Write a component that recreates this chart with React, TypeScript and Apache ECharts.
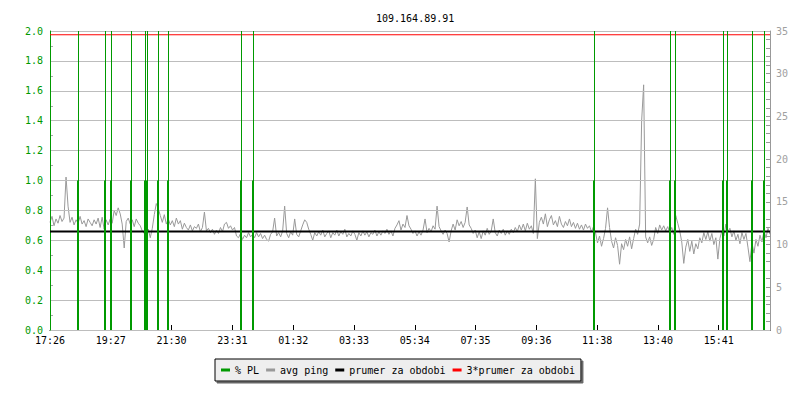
import React, { useEffect, useRef } from "react";
import * as echarts from "echarts";

// Time axis: minutes from the start of the 24h window, labelled every 121.25 min
const timeLabels = ["17:26", "19:27", "21:30", "23:31", "01:32", "03:33", "05:34", "07:35", "09:36", "11:38", "13:40", "15:41"];
const tickStepMin = 121.25;
const spanMin = 1436;

// Average ping (ms), one sample every 4 minutes
const pingStepMin = 4;
const avgPing = [
  12.6, 13.3, 12.2, 13.0, 12.5, 13.4, 12.7, 13.1, 17.9, 14.5,
  12.6, 13.2, 12.3, 12.9, 12.5, 13.3, 12.4, 12.8, 12.1, 13.0,
  12.6, 12.2, 12.9, 12.4, 13.1, 12.0, 13.2, 11.8, 12.9, 12.3,
  13.0, 12.5, 14.0, 13.4, 14.3, 13.6, 12.4, 9.6, 12.7, 13.1,
  12.4, 12.9, 12.1, 13.0, 12.5, 12.2, 11.6, 11.3, 10.9, 11.8,
  10.8, 11.9, 13.5, 14.8, 14.2, 13.4, 12.6, 13.5, 12.4, 13.0,
  12.3, 12.8, 12.1, 13.1, 12.4, 12.8, 11.8, 12.5, 12.0, 11.7,
  12.3, 11.6, 12.1, 11.9, 12.4, 11.5, 12.0, 13.8, 11.6, 11.9,
  11.4, 11.8, 11.2, 11.7, 11.3, 12.0, 11.5, 12.4, 12.6, 11.9,
  12.2, 11.7, 12.0, 11.0, 10.8, 11.3, 10.6, 11.1, 10.8, 11.4,
  10.9, 11.2, 10.8, 11.4, 10.9, 11.3, 10.7, 11.1, 10.6, 10.4,
  11.2, 11.5, 13.1, 11.0, 11.4, 10.9, 11.6, 14.5, 11.3, 10.8,
  11.5, 11.1, 13.0, 11.2, 10.9, 11.6, 12.3, 12.9, 12.6, 11.8,
  11.2, 10.5, 11.4, 11.0, 11.5, 11.1, 11.7, 10.9, 11.3, 11.6,
  10.8, 11.4, 11.1, 11.7, 11.0, 11.5, 11.2, 11.8, 10.9, 11.3,
  11.0, 11.6, 11.2, 10.5, 11.4, 11.0, 11.6, 11.1, 11.5, 10.9,
  11.4, 11.2, 11.7, 11.0, 11.5, 11.1, 11.6, 11.3, 11.8, 11.2,
  11.6, 11.0, 11.9, 12.3, 12.8, 11.7, 12.4, 12.0, 13.4, 12.2,
  11.8, 11.3, 11.6, 11.0, 11.5, 11.1, 11.7, 13.0, 11.4, 11.9,
  11.5, 12.2, 11.8, 14.5, 12.1, 11.6, 11.2, 11.7, 11.3, 10.3,
  11.6, 12.4, 11.7, 12.9, 12.2, 12.7, 12.0, 12.6, 14.4, 12.3,
  11.9, 11.3, 11.7, 10.8, 11.5, 10.7, 11.6, 11.1, 11.9, 11.2,
  11.6, 13.0, 11.4, 11.0, 11.7, 11.3, 11.8, 11.1, 11.6, 11.2,
  11.8, 11.4, 12.0, 11.5, 12.3, 11.7, 12.4, 11.6, 12.5, 11.8,
  12.2, 11.3, 17.7, 10.7, 12.6, 13.2, 12.4, 13.6, 12.1, 12.9,
  13.4, 12.3, 12.8, 12.1, 13.3, 12.4, 12.0, 12.7, 12.2, 13.0,
  12.1, 12.6, 11.9, 12.5, 11.8, 12.3, 11.7, 12.4, 11.9, 12.2,
  11.5, 12.1, 11.4, 10.2, 11.0, 9.8, 10.7, 11.9, 14.3, 12.0,
  10.4, 9.6, 10.8, 9.9, 7.7, 10.1, 9.4, 10.6, 9.8, 10.9,
  9.5, 10.7, 11.8, 11.2, 12.4, 24.5, 28.7, 10.9, 10.2, 10.9,
  9.9, 10.6, 12.0, 11.3, 12.3, 11.7, 12.2, 11.6, 12.1, 11.4,
  12.0, 11.2, 13.4, 12.5, 11.6, 10.3, 7.8, 9.7, 10.6, 9.2,
  10.4, 8.9, 10.1, 9.5, 10.8, 10.2, 11.4, 10.6, 11.5, 10.4,
  11.3, 10.0, 10.8, 8.3, 10.7, 11.6, 11.0, 12.4, 11.5, 11.9,
  10.9, 11.6, 10.5, 11.2, 10.1, 11.4, 10.6, 11.3, 9.7, 8.0,
  10.2, 9.0, 10.6, 9.8, 11.1, 10.3, 11.6, 10.8, 11.9, 11.2,
];

// Packet-loss events: minute offset and loss in %
const plTimes = [57, 111, 122, 163, 191, 195, 216, 236, 382, 405, 1086, 1238, 1248, 1344, 1352, 1402, 1426];
const plValues = [1.0, 1.0, 1.0, 1.0, 1.0, 1.0, 1.0, 1.0, 1.0, 1.0, 1.0, 1.0, 1.0, 1.0, 1.0, 1.0, 1.0];

// Period average and three times it (ms)
const meanPing = 11.52;
const tripleMeanPing = 34.56;

const plAxisMax = 2.0;
const pingAxisMax = 35;

const plColor = "#009900";
const pingColor = "#999999";
const meanColor = "#000000";
const tripleColor = "#ff0000";
const tickGray = "#a8a8a8";
const mono = "DejaVu Sans Mono";

export default function App() {
  const ref = useRef<HTMLDivElement>(null);

  useEffect(() => {
    if (!ref.current) return;
    const chart = echarts.init(ref.current, null, { renderer: "svg" });

    const option: any = {
      animation: false,
      backgroundColor: "#ffffff",
      title: {
        text: "109.164.89.91",
        left: 371,
        top: 8,
        textStyle: { fontFamily: mono, fontSize: 10, fontWeight: "normal", color: "#000" },
      },
      legend: {
        left: 215,
        top: 359,
        padding: [6, 6, 6, 6],
        itemGap: 7,
        itemWidth: 9,
        itemHeight: 3,
        selectedMode: false,
        backgroundColor: "#eeeeee",
        borderColor: "#000",
        borderWidth: 1,
        shadowColor: "#666",
        shadowBlur: 0,
        shadowOffsetX: 2,
        shadowOffsetY: 2,
        textStyle: { fontFamily: mono, fontSize: 10, color: "#000" },
        data: [
          { name: "% PL", icon: "rect", itemStyle: { color: plColor } },
          { name: "avg ping", icon: "rect", itemStyle: { color: pingColor } },
          { name: "prumer za obdobi", icon: "rect", itemStyle: { color: meanColor } },
          { name: "3*prumer za obdobi", icon: "rect", itemStyle: { color: tripleColor } },
        ],
      },
      grid: { left: 50, right: 30, top: 31, bottom: 70, containLabel: false },
      xAxis: {
        type: "value",
        min: 0,
        max: spanMin,
        interval: tickStepMin,
        axisLine: { show: true, onZero: false, lineStyle: { color: "#000", width: 1 } },
        axisTick: { show: true, inside: true, length: 5, lineStyle: { color: "#000" } },
        splitLine: { show: false },
        axisLabel: {
          margin: 5,
          fontFamily: mono,
          fontSize: 10,
          color: "#000",
          showMaxLabel: false,
          formatter: (v: number) => {
            const k = Math.round(v / tickStepMin);
            return Math.abs(v - k * tickStepMin) < 0.01 && timeLabels[k] ? timeLabels[k] : "";
          },
        },
      },
      yAxis: [
        // % PL scale with grid lines
        {
          type: "value",
          position: "left",
          min: 0,
          max: plAxisMax,
          interval: 0.2,
          z: 3,
          axisLine: { show: true, lineStyle: { color: plColor, width: 1 } },
          axisTick: { show: false },
          splitLine: { show: true, lineStyle: { color: "#bdbdbd", width: 1 } },
          axisLabel: {
            margin: 7,
            fontFamily: mono,
            fontSize: 10,
            color: plColor,
            formatter: (v: number) => v.toFixed(1),
          },
        },
        // ms scale
        {
          type: "value",
          position: "right",
          min: 0,
          max: pingAxisMax,
          interval: 5,
          axisLine: { show: true, lineStyle: { color: "#999", width: 1 } },
          axisTick: { show: true, inside: true, length: 4, lineStyle: { color: "#999" } },
          splitLine: { show: false },
          axisLabel: { margin: 6, fontFamily: mono, fontSize: 10, color: "#a0a0a0" },
        },
        // fine 0.1 % ticks on the left edge
        {
          type: "value",
          position: "left",
          min: 0,
          max: plAxisMax,
          interval: 0.1,
          axisLine: { show: false },
          axisTick: { show: true, inside: true, length: 3, lineStyle: { color: tickGray } },
          splitLine: { show: false },
          axisLabel: { show: false },
        },
        // fine 1 ms ticks on the right edge
        {
          type: "value",
          position: "right",
          min: 0,
          max: pingAxisMax,
          interval: 1,
          axisLine: { show: false },
          axisTick: { show: true, inside: true, length: 4, lineStyle: { color: "#999" } },
          splitLine: { show: false },
          axisLabel: { show: false },
        },
      ],
      series: [
        {
          name: "avg ping",
          type: "line",
          yAxisIndex: 1,
          color: pingColor,
          showSymbol: false,
          symbol: "none",
          lineStyle: { color: pingColor, width: 1 },
          z: 2,
          data: avgPing.map((v, i) => [i * pingStepMin, v]),
        },
        {
          name: "prumer za obdobi",
          type: "line",
          yAxisIndex: 1,
          color: meanColor,
          symbol: "none",
          lineStyle: { color: meanColor, width: 2 },
          z: 3,
          data: [[0, meanPing], [spanMin, meanPing]],
        },
        {
          name: "3*prumer za obdobi",
          type: "line",
          yAxisIndex: 1,
          color: tripleColor,
          symbol: "none",
          lineStyle: { color: tripleColor, width: 1 },
          z: 4,
          data: [[0, tripleMeanPing], [spanMin, tripleMeanPing]],
        },
        {
          name: "% PL",
          type: "custom",
          yAxisIndex: 0,
          color: plColor,
          z: 5,
          encode: { x: 0, y: 1 },
          data: plTimes.map((t, i) => [t, plValues[i]]),
          renderItem: (params: any, api: any) => {
            const t = api.value(0);
            const v = api.value(1);
            const base = api.coord([t, 0]);
            const top = api.coord([t, v]);
            const tickTop = api.coord([t, plAxisMax]);
            const px = Math.floor(base[0]);
            return {
              type: "group",
              children: [
                {
                  type: "rect",
                  shape: { x: px - 1, y: top[1], width: 2, height: base[1] - top[1] },
                  style: { fill: plColor },
                },
                {
                  type: "rect",
                  shape: { x: px, y: tickTop[1], width: 1, height: base[1] - tickTop[1] },
                  style: { fill: plColor },
                },
              ],
            };
          },
        },
      ],
    };

    chart.setOption(option);
    return () => chart.dispose();
  }, []);

  return (
    <div
      ref={ref}
      style={{ position: "fixed", left: 0, top: 0, width: 800, height: 400 }}
    />
  );
}
